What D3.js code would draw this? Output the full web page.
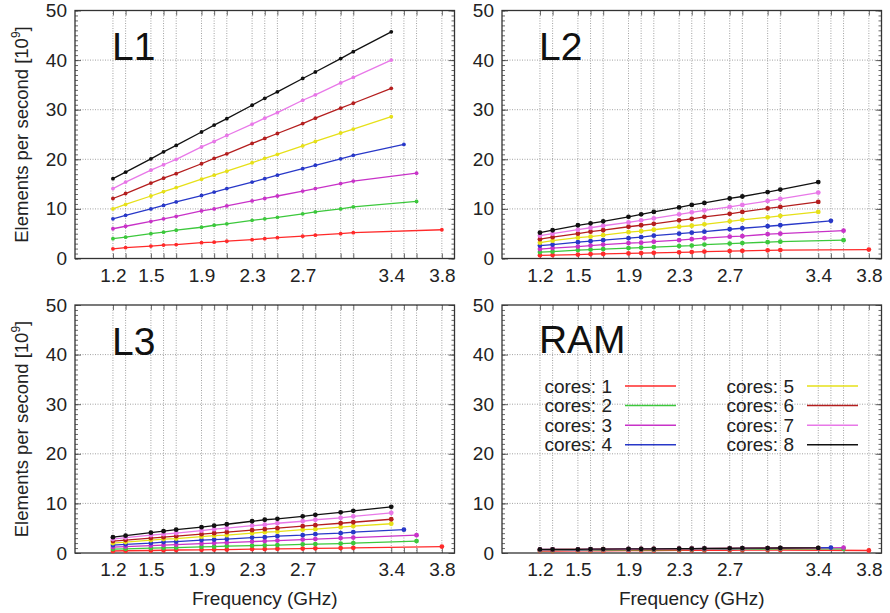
<!DOCTYPE html>
<html>
<head>
<meta charset="utf-8">
<script src="https://cdn.jsdelivr.net/npm/d3@7"></script>
<style>
  body { margin: 0; background: #fff; }
  svg { font-family: "Liberation Sans", Arial, sans-serif; }
</style>
</head>
<body>
<div id="chart"></div>
<script>
// frequencies (GHz) shared by every series, then the turbo point of each core count
const freqs = [1.2, 1.3, 1.5, 1.6, 1.7, 1.9, 2.0, 2.1, 2.3, 2.4, 2.5, 2.7, 2.8, 3.0, 3.1];
const turbo = [3.8, 3.6, 3.6, 3.5, 3.4, 3.4, 3.4, 3.4];
const gridFreqs = [1.2, 1.3, 1.5, 1.6, 1.7, 1.9, 2.0, 2.1, 2.3, 2.4, 2.5, 2.7, 2.8, 3.0, 3.1, 3.4, 3.5, 3.6, 3.8];
const labelFreqs = [1.2, 1.5, 1.9, 2.3, 2.7, 3.4, 3.8];
const yTicks = [0, 10, 20, 30, 40, 50];
const cores = [1, 2, 3, 4, 5, 6, 7, 8];
const colors = ["#ff2a2a", "#3cc83c", "#c832c8", "#2838c8", "#e6e018", "#b41e1e", "#e878e8", "#111111"];

// elements per second [10^9], one row per core count (15 freqs + turbo)
const l1 = [
  [1.95, 2.2, 2.5, 2.7, 2.8, 3.2, 3.3, 3.5, 3.8, 4.0, 4.2, 4.5, 4.7, 5.0, 5.2, 5.8],
  [4.0, 4.3, 5.0, 5.3, 5.7, 6.3, 6.7, 7.0, 7.7, 8.0, 8.3, 9.0, 9.4, 10.0, 10.4, 11.5],
  [6.0, 6.5, 7.5, 8.0, 8.5, 9.6, 10.0, 10.6, 11.6, 12.1, 12.6, 13.6, 14.1, 15.1, 15.6, 17.2],
  [8.0, 8.7, 10.0, 10.7, 11.4, 12.7, 13.4, 14.1, 15.4, 16.1, 16.8, 18.1, 18.8, 20.1, 20.8, 23.0],
  [10.0, 10.9, 12.6, 13.5, 14.3, 16.0, 16.8, 17.6, 19.3, 20.2, 21.0, 22.7, 23.6, 25.3, 26.1, 28.6],
  [12.1, 13.1, 15.2, 16.2, 17.1, 19.1, 20.2, 21.1, 23.2, 24.2, 25.2, 27.2, 28.3, 30.3, 31.3, 34.3],
  [14.1, 15.4, 17.8, 18.9, 20.0, 22.5, 23.6, 24.8, 27.1, 28.3, 29.4, 31.9, 33.0, 35.4, 36.5, 40.0],
  [16.1, 17.4, 20.1, 21.5, 22.8, 25.5, 26.9, 28.2, 30.9, 32.3, 33.6, 36.3, 37.6, 40.3, 41.7, 45.7]
];
const l2 = [
  [0.65, 0.7, 0.8, 0.9, 0.95, 1.05, 1.1, 1.15, 1.25, 1.3, 1.4, 1.5, 1.55, 1.65, 1.7, 1.8],
  [1.3, 1.4, 1.7, 1.8, 1.9, 2.1, 2.2, 2.3, 2.5, 2.6, 2.8, 3.0, 3.1, 3.3, 3.4, 3.7],
  [1.9, 2.1, 2.4, 2.6, 2.8, 3.1, 3.2, 3.4, 3.7, 3.9, 4.1, 4.4, 4.5, 4.9, 5.0, 5.6],
  [2.6, 2.8, 3.3, 3.5, 3.7, 4.1, 4.3, 4.6, 5.0, 5.2, 5.4, 5.9, 6.1, 6.5, 6.7, 7.6],
  [3.2, 3.6, 4.2, 4.4, 4.7, 5.3, 5.5, 5.8, 6.4, 6.6, 6.9, 7.5, 7.8, 8.3, 8.6, 9.4],
  [3.9, 4.3, 5.0, 5.4, 5.7, 6.4, 6.7, 7.0, 7.7, 8.0, 8.4, 9.0, 9.4, 10.1, 10.4, 11.4],
  [4.6, 5.0, 5.8, 6.2, 6.6, 7.3, 7.7, 8.1, 8.9, 9.3, 9.7, 10.4, 10.8, 11.6, 12.0, 13.3],
  [5.2, 5.7, 6.7, 7.1, 7.5, 8.4, 8.9, 9.4, 10.3, 10.8, 11.2, 12.1, 12.5, 13.4, 13.9, 15.4]
];
const l3 = [
  [0.4, 0.45, 0.5, 0.55, 0.6, 0.65, 0.7, 0.7, 0.8, 0.8, 0.85, 0.9, 0.95, 1.0, 1.05, 1.3],
  [0.8, 0.85, 1.0, 1.05, 1.1, 1.25, 1.3, 1.4, 1.5, 1.55, 1.6, 1.75, 1.8, 1.9, 2.0, 2.4],
  [1.2, 1.3, 1.5, 1.6, 1.7, 1.9, 2.0, 2.1, 2.3, 2.4, 2.5, 2.7, 2.8, 3.0, 3.1, 3.6],
  [1.6, 1.75, 2.0, 2.2, 2.3, 2.6, 2.7, 2.8, 3.1, 3.2, 3.4, 3.6, 3.8, 4.0, 4.2, 4.7],
  [2.0, 2.2, 2.6, 2.8, 2.9, 3.3, 3.5, 3.6, 4.0, 4.2, 4.3, 4.7, 4.8, 5.2, 5.4, 5.9],
  [2.4, 2.6, 3.0, 3.2, 3.4, 3.8, 4.0, 4.2, 4.6, 4.8, 5.0, 5.4, 5.6, 6.0, 6.2, 6.8],
  [2.8, 3.1, 3.6, 3.8, 4.0, 4.5, 4.8, 5.0, 5.5, 5.7, 6.0, 6.4, 6.7, 7.1, 7.4, 8.1],
  [3.2, 3.5, 4.1, 4.4, 4.7, 5.2, 5.5, 5.8, 6.4, 6.7, 6.9, 7.4, 7.7, 8.2, 8.5, 9.3]
];
const ram = [
  [0.4, 0.4, 0.42, 0.43, 0.45, 0.47, 0.48, 0.5, 0.52, 0.53, 0.54, 0.55, 0.56, 0.58, 0.6, 0.5],
  [0.5, 0.52, 0.55, 0.57, 0.6, 0.62, 0.64, 0.66, 0.7, 0.72, 0.74, 0.77, 0.78, 0.8, 0.82, 0.85],
  [0.6, 0.62, 0.66, 0.68, 0.7, 0.73, 0.75, 0.77, 0.8, 0.82, 0.84, 0.87, 0.89, 0.92, 0.94, 1.1],
  [0.65, 0.67, 0.7, 0.72, 0.74, 0.77, 0.79, 0.81, 0.84, 0.86, 0.88, 0.91, 0.93, 0.96, 0.98, 1.1],
  [0.68, 0.7, 0.72, 0.74, 0.76, 0.79, 0.8, 0.82, 0.85, 0.87, 0.89, 0.92, 0.94, 0.97, 0.98, 1.0],
  [0.7, 0.71, 0.73, 0.75, 0.77, 0.8, 0.81, 0.83, 0.86, 0.88, 0.9, 0.93, 0.95, 0.98, 0.99, 1.0],
  [0.71, 0.72, 0.74, 0.76, 0.78, 0.81, 0.82, 0.84, 0.87, 0.89, 0.91, 0.94, 0.96, 0.99, 1.0, 1.0],
  [0.72, 0.73, 0.75, 0.77, 0.79, 0.82, 0.83, 0.85, 0.88, 0.9, 0.92, 0.95, 0.97, 1.0, 1.01, 1.02]
];

const width = 890, height = 613;
const textColor = "#222";

const svg = d3.select("#chart").append("svg")
  .attr("width", width)
  .attr("height", height);

// panel frames
const panels = [
  { name: "L1", data: l1, left: 75, top: 10.5, yLabel: true, xLabel: false, nameY: 49.5 },
  { name: "L2", data: l2, left: 502, top: 10.5, yLabel: false, xLabel: false, nameY: 49.5 },
  { name: "L3", data: l3, left: 75, top: 305, yLabel: true, xLabel: true, nameY: 50 },
  { name: "RAM", data: ram, left: 502, top: 305, yLabel: false, xLabel: true, nameY: 48, legend: true }
];
const pw = 379.5, ph = 248;

const x = d3.scaleLinear().domain([0.9, 3.9]).range([0, pw]);
const y = d3.scaleLinear().domain([0, 50]).range([ph, 0]);

const line = d3.line().x(d => x(d[0])).y(d => y(d[1]));

panels.forEach(p => {
  const g = svg.append("g").attr("transform", `translate(${p.left},${p.top})`);

  // grid
  g.append("g").selectAll("line").data(gridFreqs).enter().append("line")
    .attr("x1", d => x(d)).attr("x2", d => x(d))
    .attr("y1", 0).attr("y2", ph)
    .attr("stroke", "#8a8a8a").attr("stroke-width", 0.8)
    .attr("stroke-dasharray", "1,1.5");
  g.append("g").selectAll("line").data([10, 20, 30, 40]).enter().append("line")
    .attr("x1", 0).attr("x2", pw)
    .attr("y1", d => y(d)).attr("y2", d => y(d))
    .attr("stroke", "#8a8a8a").attr("stroke-width", 0.8)
    .attr("stroke-dasharray", "1,1.5");

  // axes (ticks inward, mirrored)
  g.append("g").attr("transform", `translate(0,${ph})`)
    .call(d3.axisBottom(x).tickValues(gridFreqs).tickSize(-5).tickPadding(10)
      .tickFormat(d => labelFreqs.includes(d) ? d3.format(".1f")(d) : ""));
  g.append("g")
    .call(d3.axisTop(x).tickValues(gridFreqs).tickSize(-5).tickFormat(""));
  g.append("g")
    .call(d3.axisLeft(y).tickValues(yTicks).tickSize(-6).tickPadding(8));
  g.append("g")
    .call(d3.axisLeft(y).tickValues(d3.range(0, 51, 1)).tickSize(-3).tickFormat(""));
  g.append("g").attr("transform", `translate(${pw},0)`)
    .call(d3.axisRight(y).tickValues(yTicks).tickSize(-6).tickFormat(""));
  g.append("g").attr("transform", `translate(${pw},0)`)
    .call(d3.axisRight(y).tickValues(d3.range(0, 51, 1)).tickSize(-3).tickFormat(""));

  g.selectAll(".domain").remove();
  g.selectAll(".tick line").attr("stroke", "#444").attr("stroke-width", 0.8);
  g.selectAll(".tick text").attr("fill", textColor).attr("font-size", 19)
    .attr("font-family", "Liberation Sans, Arial, sans-serif");

  // border
  g.append("rect").attr("width", pw).attr("height", ph)
    .attr("fill", "none").attr("stroke", "#333").attr("stroke-width", 1.3);

  // series
  p.data.forEach((vals, i) => {
    const xs = freqs.concat([turbo[i]]);
    const pts = xs.map((f, k) => [f, vals[k]]);
    g.append("path").datum(pts)
      .attr("d", line)
      .attr("fill", "none")
      .attr("stroke", colors[i])
      .attr("stroke-width", 1.3);
    g.append("g").selectAll("circle").data(pts).enter().append("circle")
      .attr("cx", d => x(d[0])).attr("cy", d => y(d[1]))
      .attr("r", p.name === "L1" ? 1.9 : 2.4)
      .attr("fill", colors[i]);
  });

  // panel name
  g.append("text")
    .attr("x", x(1.2) - 1).attr("y", p.nameY)
    .attr("font-size", 39).attr("fill", "#111")
    .text(p.name);

  if (p.yLabel) {
    const t = g.append("text")
      .attr("transform", `translate(-47,${ph / 2}) rotate(-90)`)
      .attr("text-anchor", "middle")
      .attr("font-size", 18.5).attr("fill", textColor);
    t.append("tspan").text("Elements per second [10");
    t.append("tspan").text("9").attr("font-size", 12).attr("dy", -8);
    t.append("tspan").text("]").attr("dy", 8);
  }
  if (p.xLabel) {
    g.append("text")
      .attr("x", pw / 2).attr("y", ph + 52)
      .attr("text-anchor", "middle")
      .attr("font-size", 19).attr("fill", textColor)
      .text("Frequency (GHz)");
  }

  if (p.legend) {
    const lg = g.append("g");
    cores.forEach((c, i) => {
      const col = Math.floor(i / 4), row = i % 4;
      const tx = col === 0 ? 110 : 292;
      const ty = 81 + row * 19.6;
      lg.append("text")
        .attr("x", tx).attr("y", ty).attr("dy", "0.35em")
        .attr("text-anchor", "end")
        .attr("font-size", 19).attr("fill", textColor)
        .text(`cores: ${c}`);
      lg.append("line")
        .attr("x1", tx + 13).attr("x2", tx + 64)
        .attr("y1", ty).attr("y2", ty)
        .attr("stroke", colors[i]).attr("stroke-width", 1.5);
    });
  }
});
</script>
</body>
</html>
